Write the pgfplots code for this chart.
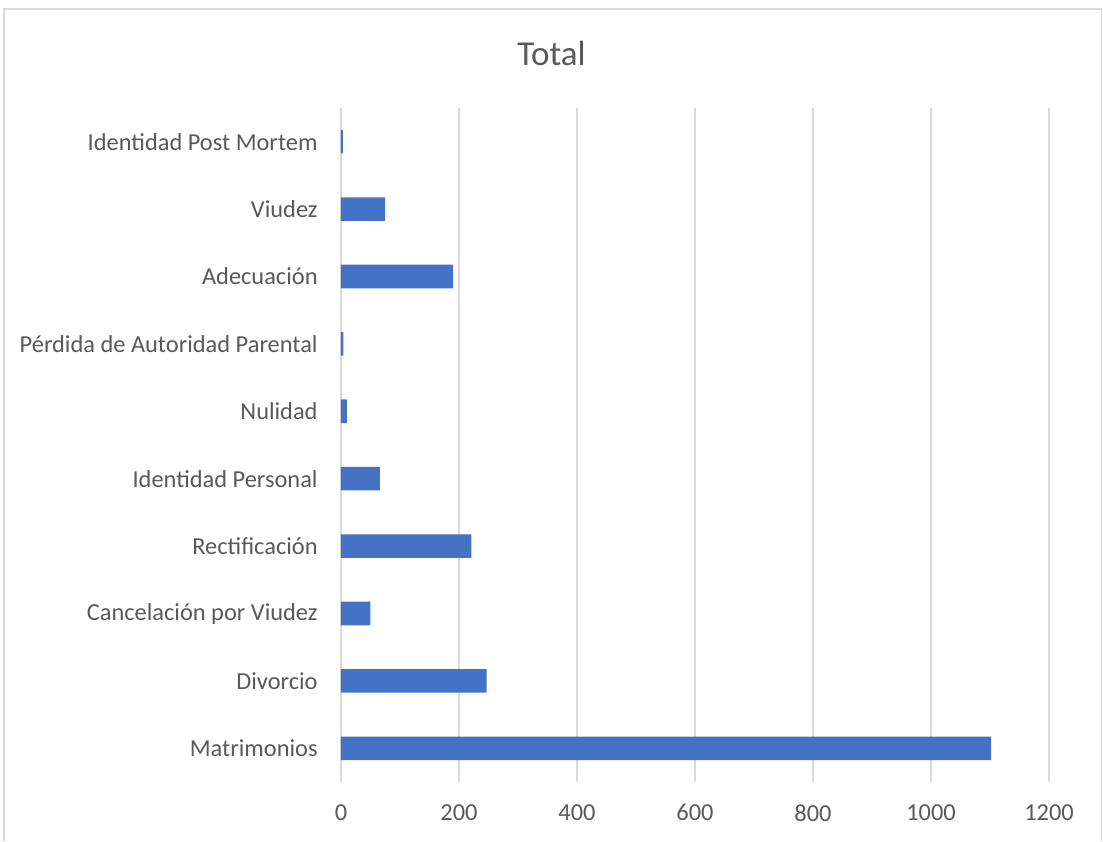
\documentclass[border=0pt]{standalone}
\usepackage{fontspec}
\setmainfont{Carlito}
\usepackage{pgfplots}
\pgfplotsset{compat=1.18}
\definecolor{barblue}{HTML}{4472C4}
\definecolor{txtgray}{HTML}{595959}
\definecolor{gridgray}{HTML}{D9D9D9}

\begin{document}
\begin{tikzpicture}
% canvas 1103x841 px at 0.5pt per px; axis box from px (341,108) to (1049,782)
\path[use as bounding box] (-170.5pt,-29.5pt) rectangle (381pt,391pt);
\draw[gridgray, line width=0.8pt] (-168.5pt,-29.5pt) -- (-168.5pt,386.5pt) -- (380.3pt,386.5pt) -- (380.3pt,-29.5pt);
\node[txtgray, font=\fontsize{17.5}{20}\selectfont] at (105.25pt,364.5pt) {Total};
\begin{axis}[
    at={(0pt,0pt)}, anchor=south west,
    scale only axis,
    width=354pt, height=337pt,
    xbar, bar width=0.35,
    xmin=0, xmax=1200,
    ymin=-0.5, ymax=9.5,
    xtick={0,200,...,1200},
    ytick={0,...,9},
    yticklabels={Matrimonios,Divorcio,Cancelación por Viudez,Rectificación,Identidad Personal,Nulidad,Pérdida de Autoridad Parental,Adecuación,Viudez,Identidad Post Mortem},
    /pgf/number format/assume math mode=true,
    /pgf/number format/1000 sep={},
    xmajorgrids,
    grid style={gridgray, line width=1pt},
    axis line style={draw=none},
    tick style={draw=none},
    major tick length=0pt,
    tick label style={txtgray, font=\fontsize{12.2}{14}\selectfont},
    yticklabel style={inner sep=0pt, anchor=east, xshift=-11.5pt},
    xticklabel style={inner sep=0pt, anchor=north, yshift=-11pt},
]
\addplot[fill=barblue, draw=none] coordinates {
    (1102,0) (247,1) (50,2) (221,3) (66,4) (10,5) (4,6) (190,7) (75,8) (3,9)
};
\end{axis}
\end{tikzpicture}
\end{document}
